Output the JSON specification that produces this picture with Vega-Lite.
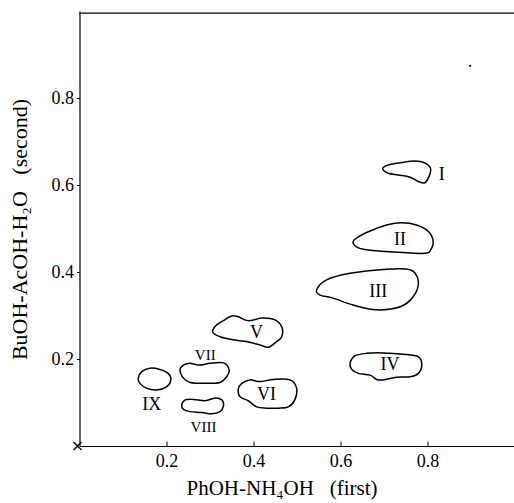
{
  "$schema": "https://vega.github.io/schema/vega-lite/v6.json",
  "width": 435,
  "height": 435,
  "autosize": "none",
  "padding": {"left": 79.5, "top": 11, "right": 0, "bottom": 57},
  "background": "white",
  "config": {"view": {"stroke": null}},
  "datasets": {
    "spots": [
      {"spot": "I", "i": 0, "x": 0.697, "y": 0.638},
      {"spot": "I", "i": 1, "x": 0.710, "y": 0.646},
      {"spot": "I", "i": 2, "x": 0.737, "y": 0.651},
      {"spot": "I", "i": 3, "x": 0.771, "y": 0.655},
      {"spot": "I", "i": 4, "x": 0.794, "y": 0.651},
      {"spot": "I", "i": 5, "x": 0.807, "y": 0.638},
      {"spot": "I", "i": 6, "x": 0.804, "y": 0.621},
      {"spot": "I", "i": 7, "x": 0.794, "y": 0.605},
      {"spot": "I", "i": 8, "x": 0.779, "y": 0.608},
      {"spot": "I", "i": 9, "x": 0.760, "y": 0.618},
      {"spot": "I", "i": 10, "x": 0.733, "y": 0.623},
      {"spot": "I", "i": 11, "x": 0.710, "y": 0.627},

      {"spot": "II", "i": 0, "x": 0.629, "y": 0.470},
      {"spot": "II", "i": 1, "x": 0.645, "y": 0.483},
      {"spot": "II", "i": 2, "x": 0.675, "y": 0.497},
      {"spot": "II", "i": 3, "x": 0.706, "y": 0.508},
      {"spot": "II", "i": 4, "x": 0.741, "y": 0.513},
      {"spot": "II", "i": 5, "x": 0.775, "y": 0.508},
      {"spot": "II", "i": 6, "x": 0.802, "y": 0.493},
      {"spot": "II", "i": 7, "x": 0.813, "y": 0.470},
      {"spot": "II", "i": 8, "x": 0.806, "y": 0.449},
      {"spot": "II", "i": 9, "x": 0.794, "y": 0.443},
      {"spot": "II", "i": 10, "x": 0.752, "y": 0.444},
      {"spot": "II", "i": 11, "x": 0.706, "y": 0.447},
      {"spot": "II", "i": 12, "x": 0.660, "y": 0.451},
      {"spot": "II", "i": 13, "x": 0.637, "y": 0.458},

      {"spot": "III", "i": 0, "x": 0.545, "y": 0.359},
      {"spot": "III", "i": 1, "x": 0.568, "y": 0.382},
      {"spot": "III", "i": 2, "x": 0.622, "y": 0.397},
      {"spot": "III", "i": 3, "x": 0.698, "y": 0.406},
      {"spot": "III", "i": 4, "x": 0.760, "y": 0.405},
      {"spot": "III", "i": 5, "x": 0.779, "y": 0.378},
      {"spot": "III", "i": 6, "x": 0.767, "y": 0.343},
      {"spot": "III", "i": 7, "x": 0.737, "y": 0.320},
      {"spot": "III", "i": 8, "x": 0.683, "y": 0.313},
      {"spot": "III", "i": 9, "x": 0.629, "y": 0.324},
      {"spot": "III", "i": 10, "x": 0.583, "y": 0.340},
      {"spot": "III", "i": 11, "x": 0.553, "y": 0.347},

      {"spot": "IV", "i": 0, "x": 0.622, "y": 0.190},
      {"spot": "IV", "i": 1, "x": 0.633, "y": 0.207},
      {"spot": "IV", "i": 2, "x": 0.660, "y": 0.213},
      {"spot": "IV", "i": 3, "x": 0.698, "y": 0.214},
      {"spot": "IV", "i": 4, "x": 0.744, "y": 0.211},
      {"spot": "IV", "i": 5, "x": 0.779, "y": 0.205},
      {"spot": "IV", "i": 6, "x": 0.787, "y": 0.186},
      {"spot": "IV", "i": 7, "x": 0.779, "y": 0.167},
      {"spot": "IV", "i": 8, "x": 0.760, "y": 0.159},
      {"spot": "IV", "i": 9, "x": 0.729, "y": 0.158},
      {"spot": "IV", "i": 10, "x": 0.698, "y": 0.152},
      {"spot": "IV", "i": 11, "x": 0.683, "y": 0.153},
      {"spot": "IV", "i": 12, "x": 0.668, "y": 0.163},
      {"spot": "IV", "i": 13, "x": 0.641, "y": 0.167},
      {"spot": "IV", "i": 14, "x": 0.626, "y": 0.176},

      {"spot": "V", "i": 0, "x": 0.306, "y": 0.263},
      {"spot": "V", "i": 1, "x": 0.315, "y": 0.278},
      {"spot": "V", "i": 2, "x": 0.334, "y": 0.290},
      {"spot": "V", "i": 3, "x": 0.350, "y": 0.299},
      {"spot": "V", "i": 4, "x": 0.365, "y": 0.297},
      {"spot": "V", "i": 5, "x": 0.388, "y": 0.288},
      {"spot": "V", "i": 6, "x": 0.419, "y": 0.294},
      {"spot": "V", "i": 7, "x": 0.449, "y": 0.290},
      {"spot": "V", "i": 8, "x": 0.465, "y": 0.274},
      {"spot": "V", "i": 9, "x": 0.465, "y": 0.251},
      {"spot": "V", "i": 10, "x": 0.453, "y": 0.240},
      {"spot": "V", "i": 11, "x": 0.434, "y": 0.227},
      {"spot": "V", "i": 12, "x": 0.415, "y": 0.232},
      {"spot": "V", "i": 13, "x": 0.384, "y": 0.240},
      {"spot": "V", "i": 14, "x": 0.354, "y": 0.244},
      {"spot": "V", "i": 15, "x": 0.323, "y": 0.251},

      {"spot": "VI", "i": 0, "x": 0.365, "y": 0.130},
      {"spot": "VI", "i": 1, "x": 0.373, "y": 0.144},
      {"spot": "VI", "i": 2, "x": 0.392, "y": 0.152},
      {"spot": "VI", "i": 3, "x": 0.415, "y": 0.148},
      {"spot": "VI", "i": 4, "x": 0.446, "y": 0.153},
      {"spot": "VI", "i": 5, "x": 0.484, "y": 0.152},
      {"spot": "VI", "i": 6, "x": 0.499, "y": 0.133},
      {"spot": "VI", "i": 7, "x": 0.495, "y": 0.106},
      {"spot": "VI", "i": 8, "x": 0.480, "y": 0.090},
      {"spot": "VI", "i": 9, "x": 0.457, "y": 0.087},
      {"spot": "VI", "i": 10, "x": 0.430, "y": 0.087},
      {"spot": "VI", "i": 11, "x": 0.407, "y": 0.090},
      {"spot": "VI", "i": 12, "x": 0.388, "y": 0.104},
      {"spot": "VI", "i": 13, "x": 0.369, "y": 0.113},

      {"spot": "VII", "i": 0, "x": 0.231, "y": 0.175},
      {"spot": "VII", "i": 1, "x": 0.239, "y": 0.186},
      {"spot": "VII", "i": 2, "x": 0.254, "y": 0.190},
      {"spot": "VII", "i": 3, "x": 0.277, "y": 0.186},
      {"spot": "VII", "i": 4, "x": 0.300, "y": 0.190},
      {"spot": "VII", "i": 5, "x": 0.331, "y": 0.191},
      {"spot": "VII", "i": 6, "x": 0.344, "y": 0.175},
      {"spot": "VII", "i": 7, "x": 0.338, "y": 0.159},
      {"spot": "VII", "i": 8, "x": 0.323, "y": 0.146},
      {"spot": "VII", "i": 9, "x": 0.289, "y": 0.144},
      {"spot": "VII", "i": 10, "x": 0.254, "y": 0.146},
      {"spot": "VII", "i": 11, "x": 0.239, "y": 0.156},

      {"spot": "VIII", "i": 0, "x": 0.235, "y": 0.094},
      {"spot": "VIII", "i": 1, "x": 0.243, "y": 0.106},
      {"spot": "VIII", "i": 2, "x": 0.262, "y": 0.107},
      {"spot": "VIII", "i": 3, "x": 0.289, "y": 0.104},
      {"spot": "VIII", "i": 4, "x": 0.311, "y": 0.110},
      {"spot": "VIII", "i": 5, "x": 0.327, "y": 0.106},
      {"spot": "VIII", "i": 6, "x": 0.331, "y": 0.092},
      {"spot": "VIII", "i": 7, "x": 0.323, "y": 0.079},
      {"spot": "VIII", "i": 8, "x": 0.304, "y": 0.074},
      {"spot": "VIII", "i": 9, "x": 0.281, "y": 0.077},
      {"spot": "VIII", "i": 10, "x": 0.254, "y": 0.079},
      {"spot": "VIII", "i": 11, "x": 0.239, "y": 0.084},

      {"spot": "IX", "i": 0, "x": 0.135, "y": 0.156},
      {"spot": "IX", "i": 1, "x": 0.143, "y": 0.171},
      {"spot": "IX", "i": 2, "x": 0.162, "y": 0.179},
      {"spot": "IX", "i": 3, "x": 0.185, "y": 0.176},
      {"spot": "IX", "i": 4, "x": 0.204, "y": 0.167},
      {"spot": "IX", "i": 5, "x": 0.210, "y": 0.152},
      {"spot": "IX", "i": 6, "x": 0.200, "y": 0.136},
      {"spot": "IX", "i": 7, "x": 0.177, "y": 0.129},
      {"spot": "IX", "i": 8, "x": 0.154, "y": 0.133},
      {"spot": "IX", "i": 9, "x": 0.139, "y": 0.144}
    ],
    "labels": [
      {"label": "I", "x": 0.833, "y": 0.623},
      {"label": "II", "x": 0.737, "y": 0.474},
      {"label": "III", "x": 0.687, "y": 0.355},
      {"label": "IV", "x": 0.714, "y": 0.186},
      {"label": "V", "x": 0.407, "y": 0.259},
      {"label": "VI", "x": 0.430, "y": 0.117},
      {"label": "VII", "x": 0.289, "y": 0.209},
      {"label": "VIII", "x": 0.285, "y": 0.044},
      {"label": "IX", "x": 0.166, "y": 0.094}
    ],
    "border": [{"y": 0.995}],
    "origin": [{"x": 0, "y": 0, "mark": "×"}],
    "speck": [{"x": 0.898, "y": 0.874}]
  },
  "layer": [
    {
      "data": {"name": "spots"},
      "mark": {"type": "line", "interpolate": "cardinal-closed", "color": "black", "strokeWidth": 1.5},
      "encoding": {
        "x": {
          "field": "x", "type": "quantitative",
          "scale": {"domain": [0, 1], "nice": false},
          "axis": {
            "title": "PhOH-NH₄OH\u2002 (first)",
            "values": [0.2, 0.4, 0.6, 0.8], "format": ".1f",
            "grid": false, "domainColor": "black", "domainWidth": 1.2,
            "tickColor": "black", "tickSize": -5, "tickWidth": 1,
            "labelFont": "Liberation Serif", "labelFontSize": 18, "labelColor": "black", "labelPadding": 11,
            "titleFont": "Liberation Serif", "titleFontSize": 21, "titleFontWeight": "normal", "titleColor": "black",
            "titleX": 202, "titleAlign": "center", "titlePadding": 7
          }
        },
        "y": {
          "field": "y", "type": "quantitative",
          "scale": {"domain": [0, 1], "nice": false},
          "axis": {
            "title": "BuOH-AcOH-H₂O\u2002 (second)",
            "values": [0.2, 0.4, 0.6, 0.8], "format": ".1f",
            "grid": false, "domainColor": "black", "domainWidth": 1.2,
            "tickColor": "black", "tickSize": 3, "tickWidth": 1,
            "labelFont": "Liberation Serif", "labelFontSize": 18, "labelColor": "black", "labelPadding": 3,
            "titleFont": "Liberation Serif", "titleFontSize": 22, "titleFontWeight": "normal", "titleColor": "black",
            "titlePadding": 20, "titleY": 218
          }
        },
        "detail": {"field": "spot"},
        "order": {"field": "i", "type": "quantitative"}
      }
    },
    {
      "data": {"name": "labels"},
      "transform": [{"filter": "datum.label !== 'VII' && datum.label !== 'VIII'"}],
      "mark": {"type": "text", "font": "Liberation Serif", "fontSize": 18, "color": "black"},
      "encoding": {
        "x": {"field": "x", "type": "quantitative"},
        "y": {"field": "y", "type": "quantitative"},
        "text": {"field": "label"}
      }
    },
    {
      "data": {"name": "labels"},
      "transform": [{"filter": "datum.label === 'VII' || datum.label === 'VIII'"}],
      "mark": {"type": "text", "font": "Liberation Serif", "fontSize": 15, "color": "black"},
      "encoding": {
        "x": {"field": "x", "type": "quantitative"},
        "y": {"field": "y", "type": "quantitative"},
        "text": {"field": "label"}
      }
    },
    {
      "data": {"name": "border"},
      "mark": {"type": "rule", "color": "black", "strokeWidth": 1.2},
      "encoding": {"y": {"field": "y", "type": "quantitative"}}
    },
    {
      "data": {"name": "origin"},
      "mark": {"type": "text", "font": "DejaVu Sans", "fontSize": 16, "color": "black", "dx": -2},
      "encoding": {
        "x": {"field": "x", "type": "quantitative"},
        "y": {"field": "y", "type": "quantitative"},
        "text": {"field": "mark"}
      }
    },
    {
      "data": {"name": "speck"},
      "mark": {"type": "point", "filled": true, "color": "black", "size": 5, "opacity": 1},
      "encoding": {
        "x": {"field": "x", "type": "quantitative"},
        "y": {"field": "y", "type": "quantitative"}
      }
    }
  ]
}
